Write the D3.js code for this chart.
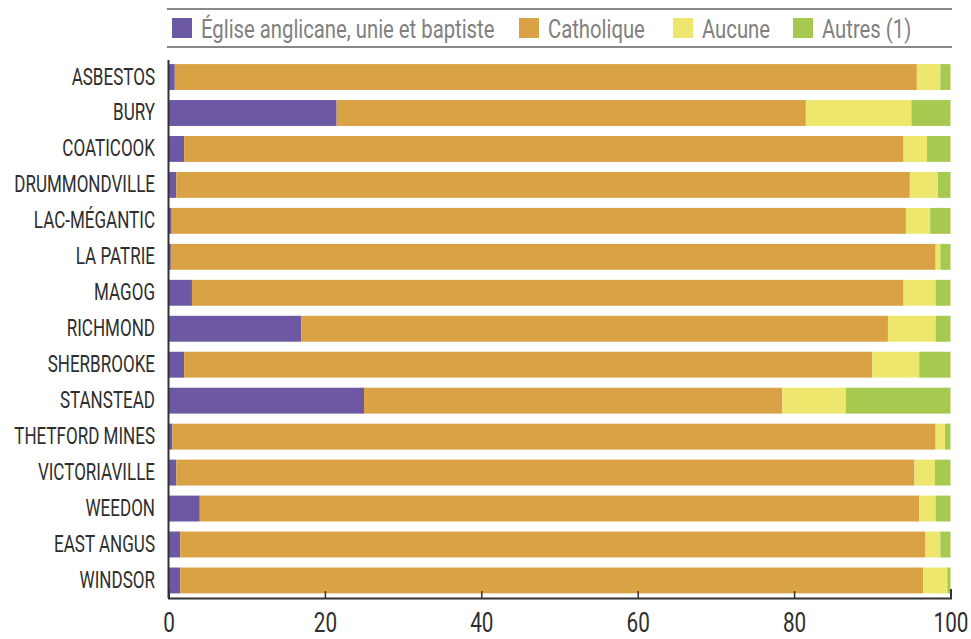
<!DOCTYPE html>
<html>
<head>
<meta charset="utf-8">
<script src="https://cdn.jsdelivr.net/npm/d3@7/dist/d3.min.js"></script>
<style>
  html, body { margin: 0; padding: 0; background: #fff; }
  svg { display: block; }
  text { font-family: Roboto, "DejaVu Sans Condensed", sans-serif; }
</style>
</head>
<body>
<svg id="chart" width="971" height="639"></svg>
<script>
const cities = ["ASBESTOS", "BURY", "COATICOOK", "DRUMMONDVILLE", "LAC-MÉGANTIC", "LA PATRIE", "MAGOG", "RICHMOND", "SHERBROOKE", "STANSTEAD", "THETFORD MINES", "VICTORIAVILLE", "WEEDON", "EAST ANGUS", "WINDSOR"];
const seriesNames = ["Église anglicane, unie et baptiste", "Catholique", "Aucune", "Autres (1)"];
const seriesColors = ["#6d58a4", "#d9a245", "#ede86d", "#a8c94f"];
const anglicane = [0.8, 21.5, 2.0, 1.0, 0.4, 0.3, 3.0, 17.0, 2.0, 25.0, 0.5, 1.0, 4.0, 1.5, 1.5];
const catholique = [94.9, 60.0, 92.0, 93.8, 93.9, 97.8, 91.0, 75.0, 88.0, 53.5, 97.6, 94.4, 92.0, 95.3, 95.0];
const aucune = [3.0, 13.5, 3.0, 3.6, 3.1, 0.6, 4.1, 6.1, 6.0, 8.1, 1.2, 2.6, 2.1, 1.9, 3.1];
const autres = [1.3, 5.0, 3.0, 1.6, 2.6, 1.3, 1.9, 1.9, 4.0, 13.4, 0.7, 2.0, 1.9, 1.3, 0.4];
const xTicks = [0, 20, 40, 60, 80, 100];

const svg = d3.select("#chart");
const margin = { left: 168.5, right: 20.5 };
const W = 971, H = 639;

const x = d3.scaleLinear().domain([0, 100]).range([margin.left, W - margin.right]);
const y = d3.scaleBand().domain(cities).range([60.5, 597]).paddingInner(0.28).paddingOuter(0.1);

const rows = cities.map((c, i) => ({ city: c, s0: anglicane[i], s1: catholique[i], s2: aucune[i], s3: autres[i] }));
const stack = d3.stack().keys(["s0", "s1", "s2", "s3"]);
const layers = stack(rows);

svg.append("g").selectAll("g")
  .data(layers)
  .join("g")
  .attr("fill", (d, i) => seriesColors[i])
  .selectAll("rect")
  .data(d => d)
  .join("rect")
  .attr("x", d => x(d[0]))
  .attr("width", d => Math.max(0, x(d[1]) - x(d[0])))
  .attr("y", d => y(d.data.city))
  .attr("height", y.bandwidth());

// y labels (condensed look via horizontal scaling)
svg.append("g").selectAll("text")
  .data(cities)
  .join("text")
  .attr("transform", d => `translate(155,${y(d) + y.bandwidth() / 2 + 7.5}) scale(0.71,1)`)
  .attr("text-anchor", "end")
  .attr("font-size", 24)
  .attr("fill", "#2e2e2e")
  .text(d => d);

// vertical axis line
svg.append("line")
  .attr("x1", x(0)).attr("x2", x(0))
  .attr("y1", 60).attr("y2", 598)
  .attr("stroke", "#333").attr("stroke-width", 2);

// x axis
const xAxis = d3.axisBottom(x).tickValues(xTicks).tickSize(-7).tickSizeOuter(-9).tickFormat(d3.format("d"));
const gx = svg.append("g").attr("transform", "translate(0,598)").call(xAxis);
gx.select(".domain").attr("stroke", "#333").attr("stroke-width", 2);
gx.selectAll(".tick line").attr("stroke", "#333").attr("stroke-width", 1.5);
gx.selectAll(".tick text")
  .attr("y", 34).attr("dy", null)
  .attr("transform", "scale(0.74,1)")
  .attr("font-size", 28).attr("fill", "#2e2e2e")
  .attr("font-family", "Roboto, sans-serif");

// legend
svg.append("line").attr("x1", 167).attr("x2", 952).attr("y1", 9).attr("y2", 9).attr("stroke", "#888").attr("stroke-width", 2);
svg.append("line").attr("x1", 167).attr("x2", 952).attr("y1", 47).attr("y2", 47).attr("stroke", "#888").attr("stroke-width", 2);
const legendX = [172, 519, 673, 793];
const lg = svg.append("g").selectAll("g")
  .data(seriesNames)
  .join("g")
  .attr("transform", (d, i) => `translate(${legendX[i]},18)`);
lg.append("rect").attr("width", 20).attr("height", 20).attr("fill", (d, i) => seriesColors[i]);
lg.append("text")
  .attr("transform", "translate(29,20) scale(0.78,1)")
  .attr("font-size", 26).attr("fill", "#808080").text(d => d);
</script>
</body>
</html>
